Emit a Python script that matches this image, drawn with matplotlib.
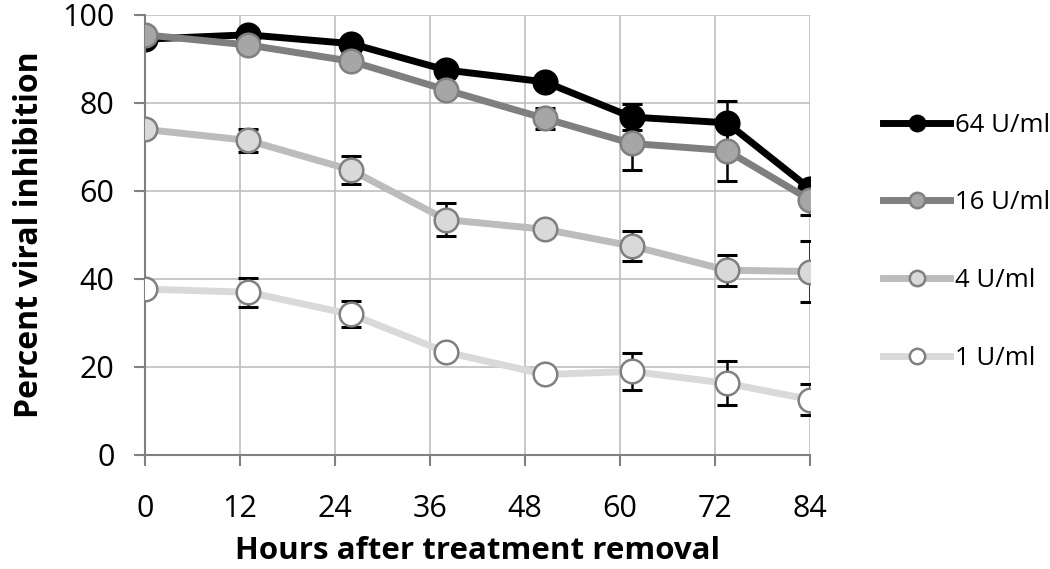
import numpy as np
import matplotlib.pyplot as plt

hours = [0, 13, 26, 38, 50.5, 61.5, 73.5, 84]
labels = ["64 U/ml", "16 U/ml", "4 U/ml", "1 U/ml"]

u64 = [94.5, 95.5, 93.5, 87.5, 84.8, 76.8, 75.5, 60.5]
u64_err = [1.0, 1.0, 1.0, 1.0, 1.0, 3.0, 5.0, 1.0]
u16 = [95.5, 93.2, 89.5, 83.0, 76.5, 70.8, 69.2, 58.0]
u16_err = [1.0, 1.0, 1.0, 1.0, 2.3, 6.0, 7.0, 3.5]
u4 = [74.0, 71.5, 64.8, 53.5, 51.3, 47.5, 42.0, 41.7]
u4_err = [0.5, 2.6, 3.2, 3.7, 0.5, 3.5, 3.5, 7.0]
u1 = [37.7, 37.0, 32.0, 23.4, 18.3, 19.0, 16.3, 12.6]
u1_err = [0.5, 3.3, 3.0, 0.5, 0.5, 4.2, 5.0, 3.6]

series = [u64, u16, u4, u1]
errors = [u64_err, u16_err, u4_err, u1_err]
line_colors = ["#000000", "#7f7f7f", "#bcbcbc", "#d9d9d9"]
face_colors = ["#000000", "#a6a6a6", "#d9d9d9", "#ffffff"]
edge_colors = ["#000000", "#808080", "#808080", "#808080"]

plt.rcParams["font.family"] = ["Open Sans", "DejaVu Sans"]

fig = plt.figure(figsize=(10.5, 5.69), dpi=100)
ax = fig.add_axes([145 / 1050, 1 - 455 / 569, 665 / 1050, 440 / 569])

# later series are drawn on top, like the spreadsheet original
for i in range(4):
    ax.errorbar(hours, series[i], yerr=errors[i], fmt="none", ecolor="black",
                elinewidth=1.8, capsize=7, capthick=2.2, zorder=2 + i)
    ax.plot(hours, series[i], color=line_colors[i], lw=5, marker="o", ms=17,
            mfc=face_colors[i], mec=edge_colors[i], mew=1.8,
            label=labels[i], zorder=2.5 + i)

ax.set_xlim(0, 84)
ax.set_ylim(0, 100)
ax.set_xticks(np.arange(0, 85, 12))
ax.set_yticks(np.arange(0, 101, 20))
ax.grid(True, color="#bfbfbf", lw=1.2)
ax.set_axisbelow(True)
for s in ["top", "right"]:
    ax.spines[s].set_visible(False)
for s in ["left", "bottom"]:
    ax.spines[s].set_color("#808080")
    ax.spines[s].set_linewidth(1.5)
ax.tick_params(axis="both", direction="out", length=8, width=1.5, color="#808080",
               labelsize=22)
ax.tick_params(axis="y", pad=14)
ax.tick_params(axis="x", pad=20)

ax.set_xlabel("Hours after treatment removal", fontsize=22.5, fontweight="bold")
ax.xaxis.set_label_coords(0.5, -0.185)
ax.set_ylabel("Percent viral inhibition", fontsize=23, fontweight="bold", labelpad=12)

ax.legend(loc="center left", bbox_to_anchor=(1.095, 0.485), borderaxespad=0,
          frameon=False, fontsize=18.5, labelspacing=2.05, handlelength=2.6,
          handletextpad=0.2, markerscale=0.65)

fig.savefig("out.png", dpi=100)
